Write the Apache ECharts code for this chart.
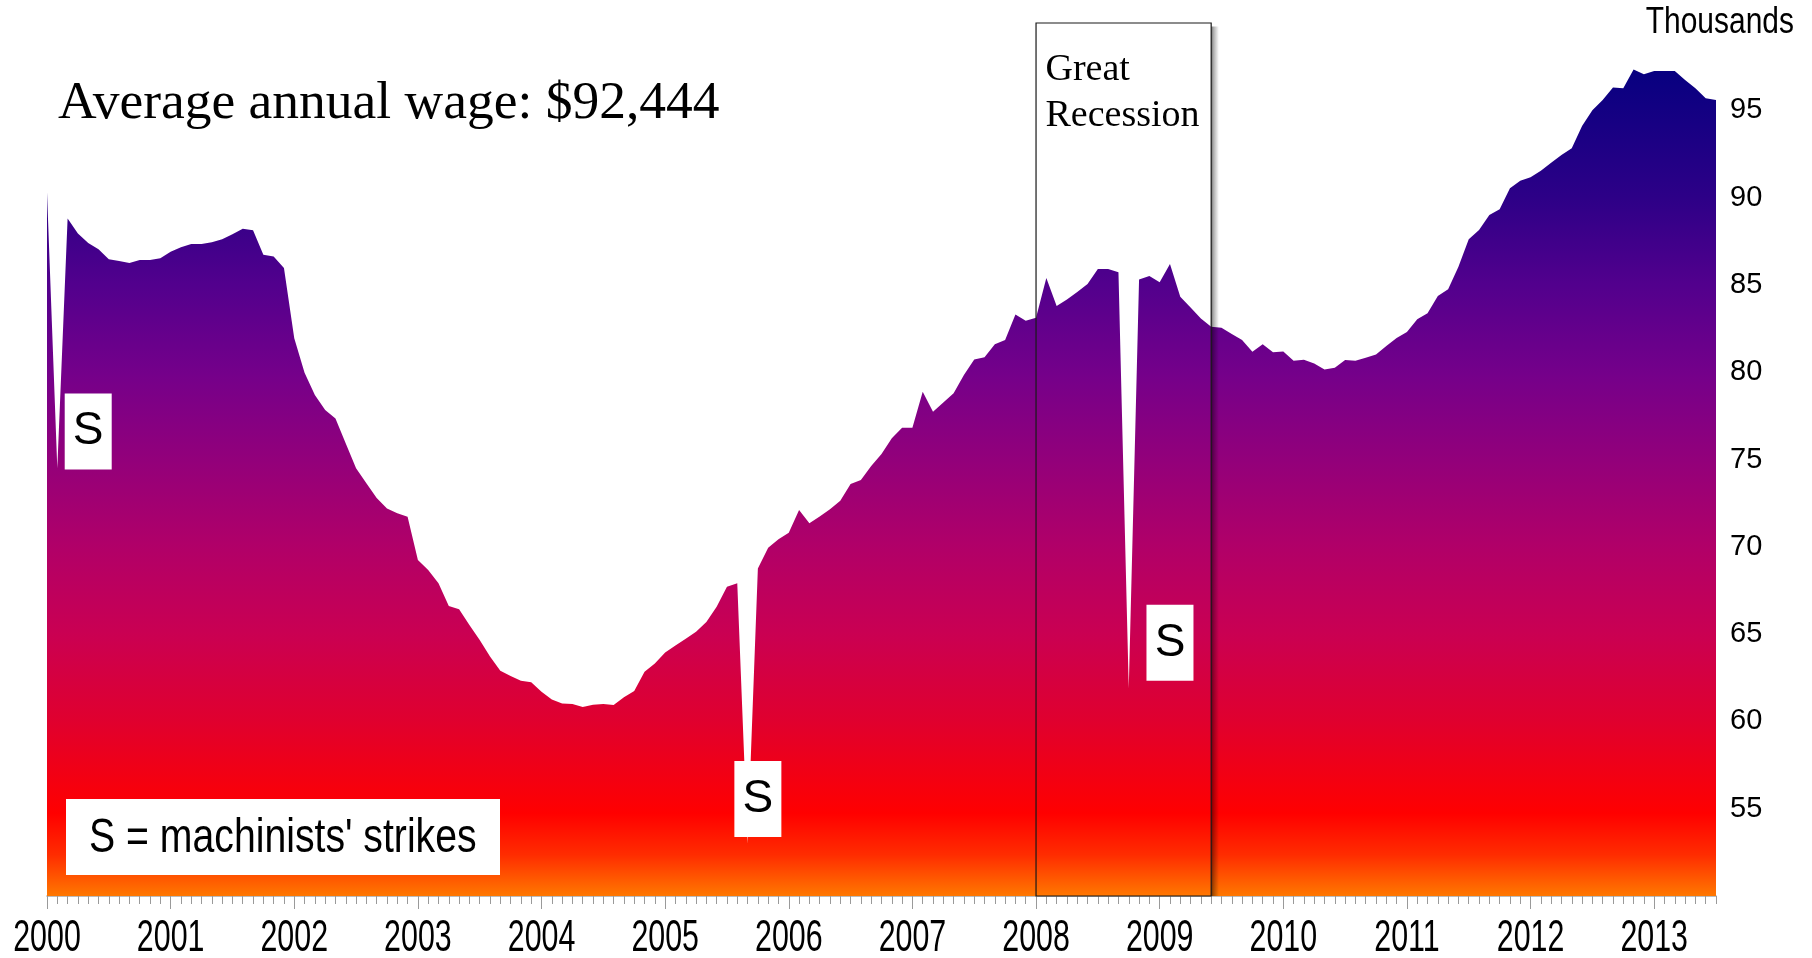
<!DOCTYPE html>
<html>
<head>
<meta charset="utf-8">
<title>Average annual wage</title>
<script src="https://cdn.jsdelivr.net/npm/echarts@6/dist/echarts.min.js"></script>
<style>
  html, body { margin: 0; padding: 0; background: #ffffff; }
  #chart { width: 1812px; height: 958px; }
</style>
</head>
<body>
<div id="chart"></div>
<script>
// Monthly categories, January 2000 through July 2013
const firstYear = 2000;
const lastYear = 2013;
const lastMonth = 7;
const months = [];
for (let y = firstYear; y <= lastYear; y++) {
  for (let m = 1; m <= 12; m++) {
    if (y === lastYear && m > lastMonth) break;
    months.push(y + '-' + String(m).padStart(2, '0'));
  }
}

// Average annual wage, thousands of dollars, one value per month
const wages = [
  90.3, 74.5, 88.8, 87.95, 87.4, 87.04, 86.47, 86.37, 86.25, 86.43, 86.43, 86.52,   // 2000
  86.9, 87.15, 87.34, 87.34, 87.44, 87.61, 87.9, 88.22, 88.13, 86.73, 86.63, 85.97, // 2001
  81.94, 79.97, 78.69, 77.83, 77.35, 75.92, 74.5, 73.64, 72.8, 72.2, 71.92, 71.72,  // 2002
  69.24, 68.67, 67.91, 66.61, 66.42, 65.52, 64.66, 63.71, 62.9, 62.6, 62.33, 62.24, // 2003
  61.7, 61.26, 61.03, 61.0, 60.82, 60.96, 61.0, 60.94, 61.38, 61.74, 62.85, 63.32,  // 2004
  63.94, 64.34, 64.74, 65.14, 65.7, 66.56, 67.71, 67.91, 53.0, 68.76, 69.95, 70.43, // 2005
  70.81, 72.11, 71.35, 71.73, 72.15, 72.64, 73.6, 73.83, 74.63, 75.32, 76.21, 76.82, // 2006
  76.82, 78.88, 77.74, 78.26, 78.79, 79.84, 80.73, 80.85, 81.6, 81.84, 83.31, 82.95, // 2007
  83.12, 85.4, 83.79, 84.17, 84.59, 85.05, 85.91, 85.91, 85.72, 61.9, 85.31, 85.51, // 2008
  85.15, 86.2, 84.32, 83.71, 83.08, 82.61, 82.55, 82.19, 81.84, 81.17, 81.6, 81.14, // 2009
  81.19, 80.66, 80.71, 80.5, 80.16, 80.26, 80.7, 80.66, 80.83, 81.02, 81.5, 81.96,  // 2010
  82.3, 83.03, 83.37, 84.36, 84.75, 86.04, 87.61, 88.14, 89.0, 89.33, 90.53, 90.97, // 2011
  91.16, 91.54, 92.0, 92.44, 92.82, 94.1, 95.01, 95.59, 96.31, 96.26, 97.34, 97.06, // 2012
  97.25, 97.25, 97.25, 96.73, 96.26, 95.69, 95.59                                   // 2013
];

// Year labels under the January ticks
const yearLabels = ['2000', '2001', '2002', '2003', '2004', '2005', '2006',
                    '2007', '2008', '2009', '2010', '2011', '2012', '2013'];

// Value axis: 50 to 100 thousand, labels every 5
const yMin = 50;
const yMax = 100;
const yStep = 5;
const hiddenYLabels = [50, 100];

// Recession span shown as a boxed band; the month after it carries the box's drop shadow
const recession = { label: 'Great\nRecession', start: '2008-01', end: '2009-06', shadowEnd: '2009-07' };

// "S" markers placed beside the machinists' strike months
const strikeNotes = [
  { month: '2000-05', value: 76.6 },
  { month: '2005-10', value: 55.55 },
  { month: '2009-02', value: 64.5 }
];

const titleText = 'Average annual wage: $92,444';
const unitText = 'Thousands';
const keyText = "S = machinists' strikes";

const SANS = '"Liberation Sans", Arial, Helvetica, sans-serif';
const SERIF = '"Liberation Serif", "Times New Roman", serif';

const chart = echarts.init(document.getElementById('chart'), null, { renderer: 'canvas' });

const fill = new echarts.graphic.LinearGradient(0, 0, 0, 1, [
  { offset: 0.00, color: '#070080' },
  { offset: 0.155, color: '#2d0087' },
  { offset: 0.26, color: '#52008d' },
  { offset: 0.37, color: '#75008a' },
  { offset: 0.47, color: '#92007b' },
  { offset: 0.578, color: '#b10068' },
  { offset: 0.683, color: '#ca0052' },
  { offset: 0.789, color: '#e0002e' },
  { offset: 0.90, color: '#ff0000' },
  { offset: 0.95, color: '#ff2c00' },
  { offset: 1.00, color: '#ff7800' }
]);

const boxShadow = new echarts.graphic.LinearGradient(0, 0, 1, 0, [
  { offset: 0.0, color: 'rgba(0,0,0,0.55)' },
  { offset: 0.25, color: 'rgba(0,0,0,0.3)' },
  { offset: 0.75, color: 'rgba(0,0,0,0)' },
  { offset: 1.0, color: 'rgba(0,0,0,0)' }
]);

chart.setOption({
  animation: false,
  backgroundColor: '#ffffff',
  grid: { left: 47, right: 96, top: 23, bottom: 62, containLabel: false },
  xAxis: [
    {
      type: 'category',
      data: months,
      boundaryGap: false,
      position: 'bottom',
      axisLine: { show: true, lineStyle: { color: '#a6a6a6', width: 1.5 } },
      axisTick: { show: true, interval: 0, length: 8, lineStyle: { color: '#9a9a9a', width: 1 } },
      // year labels are drawn as condensed text below
      axisLabel: { show: false },
      splitLine: { show: false }
    },
    {
      // longer ticks at each January
      type: 'category',
      data: months,
      boundaryGap: false,
      position: 'bottom',
      axisLine: { show: false },
      axisTick: { show: true, interval: (i) => i % 12 === 0, length: 13, lineStyle: { color: '#9a9a9a', width: 1 } },
      axisLabel: { show: false },
      splitLine: { show: false }
    }
  ],
  yAxis: {
    type: 'value',
    position: 'right',
    min: yMin,
    max: yMax,
    interval: yStep,
    axisLine: { show: false },
    axisTick: { show: false },
    splitLine: { show: false },
    axisLabel: {
      margin: 14,
      color: '#000000',
      fontFamily: SANS,
      fontSize: 29,
      formatter: (v) => (hiddenYLabels.includes(v) ? '' : String(v))
    }
  },
  series: [
    {
      name: 'Average annual wage',
      type: 'line',
      data: wages,
      symbol: 'none',
      lineStyle: { width: 0, opacity: 0 },
      areaStyle: { origin: 'start', color: fill, opacity: 1 },
      z: 2,
      markPoint: {
        z: 6,
        symbol: 'rect',
        symbolSize: [47, 76],
        itemStyle: { color: '#ffffff' },
        label: {
          show: true,
          position: 'inside',
          formatter: 'S',
          color: '#000000',
          fontFamily: SANS,
          fontSize: 46
        },
        data: strikeNotes.map((s) => ({ coord: [s.month, s.value] }))
      },
      markArea: {
        z: 5,
        silent: true,
        itemStyle: {
          color: 'rgba(0,0,0,0)',
          borderColor: '#1a1a1a',
          borderWidth: 1.2
        },
        label: {
          show: true,
          position: [10, 25],
          formatter: recession.label,
          color: '#000000',
          fontFamily: SERIF,
          fontSize: 38,
          lineHeight: 46,
          align: 'left'
        },
        data: [
          [
            {
              xAxis: recession.end, yAxis: yMax - 0.2,
              itemStyle: { color: boxShadow, borderWidth: 0 },
              label: { show: false }
            },
            { xAxis: recession.shadowEnd, yAxis: yMin }
          ],
          [
            { xAxis: recession.start, yAxis: yMax },
            { xAxis: recession.end, yAxis: yMin }
          ]
        ]
      }
    }
  ]
});

// Condensed text: year labels on the axis scale, unit label, title and key
const axisY = chart.convertToPixel({ yAxisIndex: 0 }, yMin);
const yearTexts = yearLabels.map((yr) => ({
  type: 'text',
  x: chart.convertToPixel({ xAxisIndex: 0 }, yr + '-01'),
  y: axisY + 21,
  scaleX: 0.69,
  silent: true,
  style: { text: yr, font: '44px ' + SANS, fill: '#000000', textAlign: 'center', textVerticalAlign: 'top' }
}));

chart.setOption({
  graphic: [
    ...yearTexts,
    {
      type: 'text',
      left: 58,
      top: 77,
      z: 10,
      style: { text: titleText, font: '53.5px ' + SERIF, fill: '#000000' }
    },
    {
      type: 'text',
      x: 1794,
      y: chart.convertToPixel({ yAxisIndex: 0 }, yMax),
      scaleX: 0.81,
      z: 10,
      style: { text: unitText, font: '37px ' + SANS, fill: '#000000', textAlign: 'right', textVerticalAlign: 'middle' }
    },
    {
      type: 'group',
      left: 66,
      top: 799,
      z: 10,
      children: [
        { type: 'rect', z: 10, shape: { x: 0, y: 0, width: 434, height: 76 }, style: { fill: '#ffffff' } },
        {
          type: 'text',
          z: 11,
          x: 23,
          y: 39,
          scaleX: 0.8,
          style: { text: keyText, font: '49px ' + SANS, fill: '#000000', textVerticalAlign: 'middle' }
        }
      ]
    }
  ]
});
</script>
</body>
</html>
